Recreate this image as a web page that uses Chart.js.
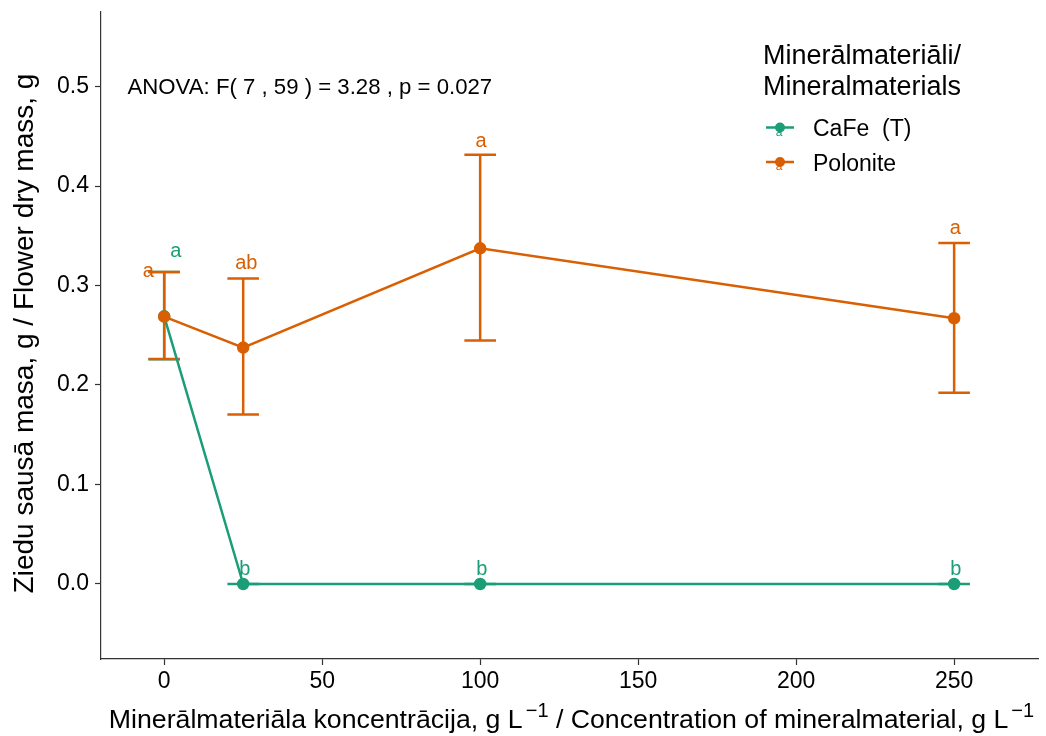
<!DOCTYPE html>
<html>
<head>
<meta charset="utf-8">
<script src="https://cdn.jsdelivr.net/npm/chart.js@4"></script>
<style>
  html, body { margin: 0; padding: 0; background: #fff; }
  #wrap { width: 1046px; height: 736px; }
</style>
</head>
<body>
<div id="wrap"><canvas id="chart" width="1046" height="736"></canvas></div>
<script>
// ── Data ─────────────────────────────────────────────────────────
const concentrations = [0, 25, 100, 250];
const cafeMean = [0.269, 0.0, 0.0, 0.0];
const cafeLow  = [0.226, 0.0, 0.0, 0.0];
const cafeHigh = [0.3135, 0.0, 0.0, 0.0];
const poloMean = [0.2688, 0.2376, 0.3374, 0.2671];
const poloLow  = [0.2261, 0.1704, 0.2447, 0.1922];
const poloHigh = [0.3135, 0.3071, 0.4315, 0.3427];
const cafeLetters = ['a', 'b', 'b', 'b'];
const cafeLetterX = [3.7, 25.5, 100.5, 250.5];
const cafeLetterY = [0.334, 0.015, 0.015, 0.015];
const poloLetters = ['a', 'ab', 'a', 'a'];
const poloLetterX = [-5, 26, 100.3, 250.4];
const poloLetterY = [0.314, 0.322, 0.445, 0.357];
const xTicks = [0, 50, 100, 150, 200, 250];
const yTicks = [0, 0.1, 0.2, 0.3, 0.4, 0.5];
const anovaText = 'ANOVA: F( 7 , 59 ) = 3.28 , p = 0.027';
const seriesNames = ['CaFe  (T)', 'Polonite'];

const GREEN = '#1B9E77';
const ORANGE = '#D95F02';
const FONT = "'Liberation Sans', Arial, sans-serif";
const CAP = 5; // error bar half width, x units

// ── Helpers ──────────────────────────────────────────────────────
const errorBars = (ctx, xs, ys, lo, hi, color) => {
  ctx.save();
  ctx.strokeStyle = color;
  ctx.lineWidth = 2.5;
  concentrations.forEach((c, i) => {
    const x = xs.getPixelForValue(c);
    const xl = xs.getPixelForValue(c - CAP), xr = xs.getPixelForValue(c + CAP);
    const yl = ys.getPixelForValue(lo[i]), yh = ys.getPixelForValue(hi[i]);
    ctx.beginPath();
    ctx.moveTo(x, yl); ctx.lineTo(x, yh);
    ctx.moveTo(xl, yl); ctx.lineTo(xr, yl);
    ctx.moveTo(xl, yh); ctx.lineTo(xr, yh);
    ctx.stroke();
  });
  ctx.restore();
};

const letters = (ctx, xs, ys, txt, lx, ly, color) => {
  ctx.save();
  ctx.fillStyle = color;
  ctx.font = `20px ${FONT}`;
  ctx.textAlign = 'center';
  ctx.textBaseline = 'middle';
  txt.forEach((t, i) => ctx.fillText(t, xs.getPixelForValue(lx[i]), ys.getPixelForValue(ly[i])));
  ctx.restore();
};

const legendKey = (ctx, x, y, color) => {
  ctx.save();
  ctx.strokeStyle = color; ctx.fillStyle = color; ctx.lineWidth = 2.5;
  ctx.beginPath(); ctx.moveTo(x - 14, y); ctx.lineTo(x + 14, y); ctx.stroke();
  ctx.beginPath(); ctx.arc(x, y, 5, 0, Math.PI * 2); ctx.fill();
  ctx.font = `12px ${FONT}`;
  ctx.textAlign = 'center'; ctx.textBaseline = 'middle';
  ctx.fillText('a', x - 1, y + 5);
  ctx.restore();
};

// ── Decorations plugin ───────────────────────────────────────────
const decor = {
  id: 'decor',
  beforeDatasetsDraw(chart) {
    const { ctx, scales: { x, y } } = chart;
    errorBars(ctx, x, y, cafeLow, cafeHigh, GREEN);
    errorBars(ctx, x, y, poloLow, poloHigh, ORANGE);
  },
  afterDatasetsDraw(chart) {
    const { ctx, chartArea, scales: { x, y } } = chart;
    letters(ctx, x, y, poloLetters, poloLetterX, poloLetterY, ORANGE);
    letters(ctx, x, y, cafeLetters, cafeLetterX, cafeLetterY, GREEN);

    ctx.save();
    ctx.fillStyle = '#000';
    ctx.font = `22.2px ${FONT}`;
    ctx.textAlign = 'left'; ctx.textBaseline = 'middle';
    ctx.fillText(anovaText, x.getPixelForValue(-11.6), y.getPixelForValue(0.4985));

    // y title
    const cy = (chartArea.top + chartArea.bottom) / 2 - 2;
    ctx.save();
    ctx.translate(33, cy);
    ctx.rotate(-Math.PI / 2);
    ctx.font = `28px ${FONT}`;
    ctx.textAlign = 'center'; ctx.textBaseline = 'alphabetic';
    ctx.fillText('Ziedu sausā masa, g / Flower dry mass, g', 0, 0);
    ctx.restore();

    // x title with superscripts
    const parts = [
      { t: 'Minerālmateriāla koncentrācija, g L', sup: false },
      { t: '−1', sup: true },
      { t: ' / Concentration of mineralmaterial, g L', sup: false },
      { t: '−1', sup: true }
    ];
    const fontOf = p => p.sup ? `20px ${FONT}` : `26.7px ${FONT}`;
    let total = 0;
    parts.forEach(p => { ctx.font = fontOf(p); p.w = ctx.measureText(p.t).width + (p.sup ? 3 : 0); total += p.w; });
    let cx = 571.5 - total / 2;
    ctx.textAlign = 'left'; ctx.textBaseline = 'alphabetic';
    parts.forEach(p => {
      ctx.font = fontOf(p);
      ctx.fillText(p.t, cx + (p.sup ? 3 : 0), p.sup ? 716.5 : 728);
      cx += p.w;
    });

    // legend
    ctx.font = `27px ${FONT}`;
    ctx.fillText('Minerālmateriāli/', 763, 64);
    ctx.fillText('Mineralmaterials', 763, 95);
    legendKey(ctx, 780, 127.5, GREEN);
    legendKey(ctx, 780, 162, ORANGE);
    ctx.font = `23px ${FONT}`;
    ctx.textBaseline = 'middle';
    ctx.fillStyle = '#000';
    ctx.fillText(seriesNames[0], 813, 129.5);
    ctx.fillText(seriesNames[1], 813, 164.5);
    ctx.restore();
  }
};

// ── Chart ────────────────────────────────────────────────────────
const pts = (ys) => concentrations.map((c, i) => ({ x: c, y: ys[i] }));
const axisTicks = (vals) => (s) => { s.ticks = vals.map(v => ({ value: v })); };

new Chart(document.getElementById('chart'), {
  type: 'line',
  data: {
    datasets: [
      { label: seriesNames[1], data: pts(poloMean), borderColor: ORANGE, backgroundColor: ORANGE,
        borderWidth: 2.5, pointRadius: 5, pointHoverRadius: 5, order: 0 },
      { label: seriesNames[0], data: pts(cafeMean), borderColor: GREEN, backgroundColor: GREEN,
        borderWidth: 2.5, pointRadius: 5, pointHoverRadius: 5, order: 1 }
    ]
  },
  options: {
    responsive: false,
    animation: false,
    layout: { padding: { top: 12, right: 0, bottom: 0, left: 0 } },
    plugins: { legend: { display: false }, tooltip: { enabled: false } },
    scales: {
      x: {
        type: 'linear', min: -20, max: 276.7,
        afterBuildTicks: axisTicks(xTicks),
        afterFit: s => { s.height = 77; s.paddingLeft = 0; s.paddingRight = 0; },
        grid: { drawOnChartArea: false, drawTicks: true, tickLength: 6, tickColor: '#333', tickWidth: 1.2 },
        border: { color: '#333', width: 1.2 },
        ticks: { color: '#000', font: { family: FONT, size: 23 }, padding: 3, maxRotation: 0, autoSkip: false }
      },
      y: {
        type: 'linear', min: -0.0754, max: 0.5749,
        afterBuildTicks: axisTicks(yTicks),
        afterFit: s => { s.width = 101; s.paddingTop = 0; s.paddingBottom = 0; },
        grid: { drawOnChartArea: false, drawTicks: true, tickLength: 6, tickColor: '#333', tickWidth: 1.2 },
        border: { color: '#333', width: 1.2 },
        ticks: { color: '#000', font: { family: FONT, size: 23 }, padding: 6, callback: v => v.toFixed(1) }
      }
    }
  },
  plugins: [decor]
});
</script>
</body>
</html>
